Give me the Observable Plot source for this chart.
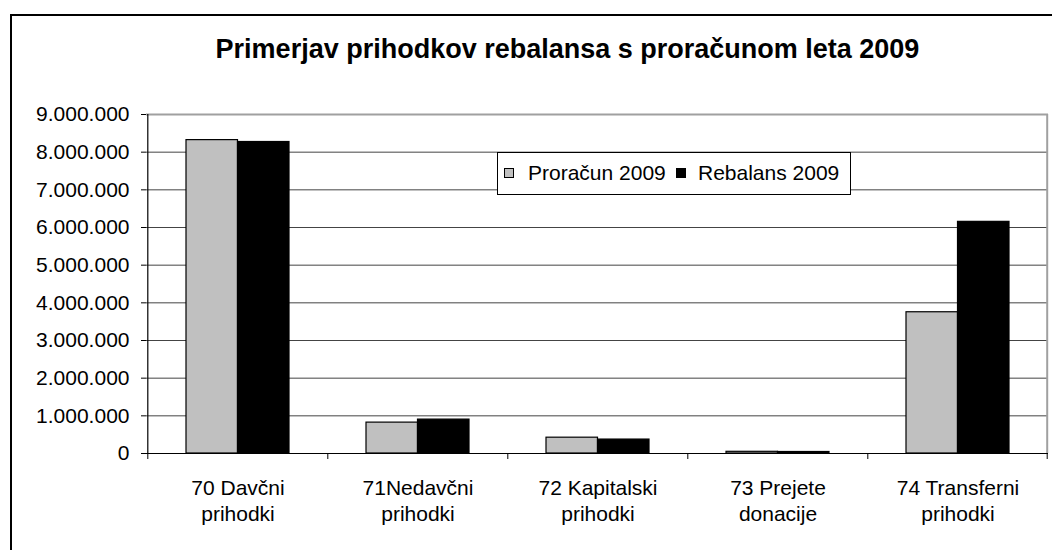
<!DOCTYPE html>
<html><head><meta charset="utf-8">
<script src="https://cdn.jsdelivr.net/npm/d3@7"></script>
<script src="https://cdn.jsdelivr.net/npm/@observablehq/plot@0.6"></script>
<style>
html,body{margin:0;padding:0;width:1052px;height:550px;overflow:hidden;background:#fff;font-family:"Liberation Sans",Arial,sans-serif;color:#000}
#frame{position:absolute;left:10px;top:14px;width:1100px;height:600px;border:2px solid #000;box-sizing:border-box;pointer-events:none;z-index:3}
#chart{position:absolute;left:0;top:0;z-index:1}
#title{position:absolute;left:0;width:1135px;top:34px;text-align:center;font-weight:bold;font-size:27px;line-height:30px;white-space:nowrap;z-index:2}
#legend{position:absolute;left:497px;top:152px;width:354px;height:43px;border:1px solid #000;box-sizing:border-box;background:#fff;z-index:2}
#legend .sw{position:absolute;top:15px;width:10px;height:10px;border:1px solid #000;box-sizing:border-box}
#legend .lb{position:absolute;top:8px;font-size:21px;line-height:24px;white-space:nowrap}
</style>
</head><body>
<div id="chart"></div>
<div id="title"></div>
<div id="legend"></div>
<div id="frame"></div>
<script>
const titleText = "Primerjav prihodkov rebalansa s proračunom leta 2009";
const categories = ["70 Davčni\nprihodki", "71Nedavčni\nprihodki", "72 Kapitalski\nprihodki", "73 Prejete\ndonacije", "74 Transferni\nprihodki"];
const seriesNames = ["Proračun 2009", "Rebalans 2009"];
const seriesColors = ["#c0c0c0", "#000000"];
const proracun = [8320000, 820000, 420000, 45000, 3750000];
const rebalans = [8270000, 900000, 370000, 40000, 6150000];
const yTicks = [0, 1000000, 2000000, 3000000, 4000000, 5000000, 6000000, 7000000, 8000000, 9000000];

const rowsP = categories.map((c, i) => ({cat: c, value: proracun[i]}));
const rowsR = categories.map((c, i) => ({cat: c, value: rebalans[i]}));
const fmt = d => d3.format(",")(d).replace(/,/g, ".");

const step = 902 / 5;
const bw = step * (1 - 0.429);

const chart = Plot.plot({
  width: 1052,
  height: 550,
  marginLeft: 146,
  marginRight: 4,
  marginTop: 114,
  marginBottom: 97,
  style: {background: "transparent", fontFamily: "'Liberation Sans', Arial, sans-serif", fontSize: "21px", color: "#000"},
  x: {domain: categories, paddingInner: 0.429, paddingOuter: 0.2145, axis: null},
  y: {domain: [0, 9000000], axis: null},
  marks: [
    Plot.gridY(yTicks, {stroke: "#444", strokeOpacity: 1}),
    Plot.ruleY([9000000], {stroke: "#a0a0a0", strokeWidth: 2}),
    Plot.ruleX([categories[categories.length - 1]], {dx: step / 2 - 1, y1: 0, y2: 9000000, stroke: "#a0a0a0", strokeWidth: 2}),
    Plot.barY(rowsP, {x: "cat", y: "value", fill: seriesColors[0], stroke: "#000", strokeWidth: 1.2, insetRight: bw / 2}),
    Plot.barY(rowsR, {x: "cat", y: "value", fill: seriesColors[1], stroke: "#000", strokeWidth: 1.2, insetLeft: bw / 2}),
    Plot.ruleY([0], {stroke: "#000", strokeWidth: 1.2}),
    Plot.ruleX([categories[0]], {dx: -step / 2, y1: 0, y2: 9000000, stroke: "#000", strokeWidth: 1.2}),
    Plot.axisY(yTicks, {tickSize: 5, tickPadding: 12, tickFormat: fmt, fontSize: 21, stroke: "#000", label: null}),
    Plot.axisX(categories, {tickSize: 6, tickPadding: 0, dx: -step / 2, tickFormat: () => "", label: null, stroke: "#000"}),
    Plot.axisX([categories[categories.length - 1]], {tickSize: 6, tickPadding: 0, dx: step / 2 - 1, tickFormat: () => "", label: null, stroke: "#000"}),
    Plot.axisX(categories, {tickSize: 0, tickPadding: 24, fontSize: 21, lineHeight: 1.2, label: null})
  ]
});
document.getElementById("chart").appendChild(chart);

document.getElementById("title").textContent = titleText;
const legend = document.getElementById("legend");
const swLeft = [6, 178];
const lbLeft = [30, 200];
seriesNames.forEach((name, i) => {
  const sw = document.createElement("div");
  sw.className = "sw";
  sw.style.left = swLeft[i] + "px";
  sw.style.background = seriesColors[i];
  legend.appendChild(sw);
  const lb = document.createElement("div");
  lb.className = "lb";
  lb.style.left = lbLeft[i] + "px";
  lb.textContent = name;
  legend.appendChild(lb);
});
</script>
</body></html>
